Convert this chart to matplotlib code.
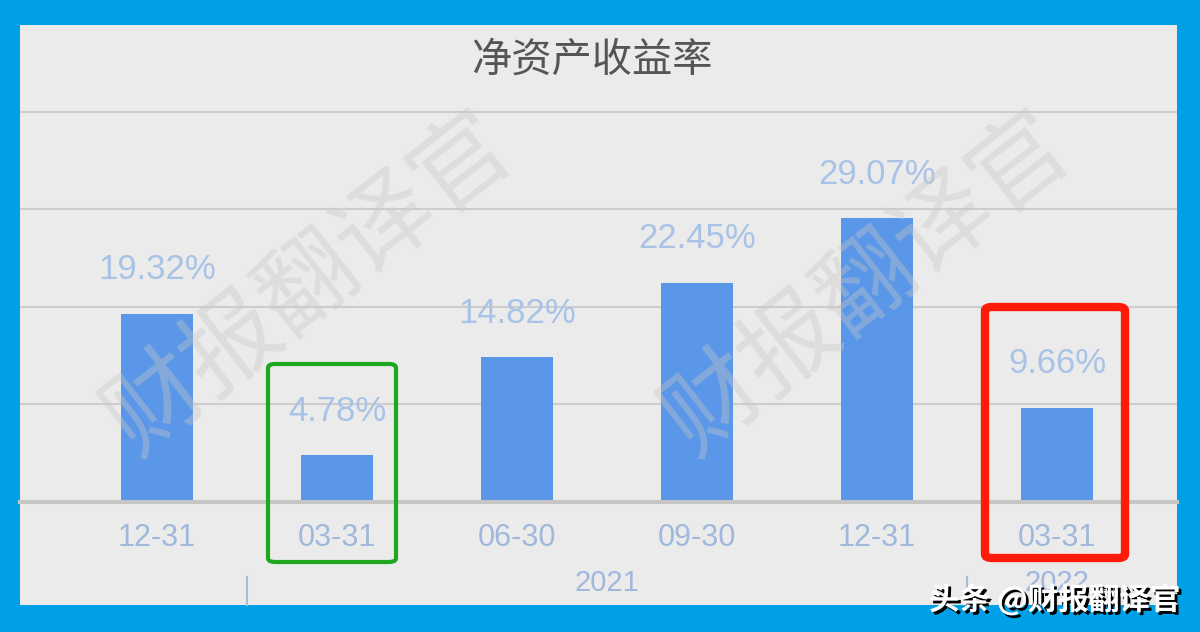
import matplotlib
matplotlib.use('Agg')
import matplotlib.pyplot as plt
import matplotlib.patheffects as pe
from matplotlib.patches import Rectangle, FancyBboxPatch

plt.rcParams['font.family'] = ['Noto Sans CJK SC', 'DejaVu Sans']

# data
dates = ['12-31', '03-31', '06-30', '09-30', '12-31', '03-31']
roe = [19.32, 4.78, 14.82, 22.45, 29.07, 9.66]
years = ['2021', '2022']
year_pos = [2.5, 5]      # centre of each year group (category index)
year_breaks = [0.5, 4.5]

W, H = 1200, 632
fig = plt.figure(figsize=(12, 6.32), dpi=100)
fig.patch.set_facecolor('#00a0e6')


def px(x, y):
    # pixel position (from top-left) -> figure fraction
    return x / W, 1 - y / H


# grey panel
x0, y0 = px(20, 605)
x1, y1 = px(1177, 25)
fig.patches.append(Rectangle((x0, y0), x1 - x0, y1 - y0, transform=fig.transFigure,
                             facecolor='#ebebeb', edgecolor='none', zorder=-5))

# axes: bottom on the baseline, top on the panel top
ax_l, ax_b = px(20, 502)
ax_r, ax_t = px(1177, 25)
ax = fig.add_axes([ax_l, ax_b, ax_r - ax_l, ax_t - ax_b])
ax.set_facecolor('none')
ax.set_xlim(-0.761, 5.667)
ax.set_ylim(0, 48.9)

for g in [10, 20, 30, 40]:
    ax.axhline(g, color='#cdcdcd', lw=1.5, zorder=1)

x = range(len(roe))
ax.bar(x, roe, width=0.4, color='#5b97e8', zorder=2)

for xi, v in zip(x, roe):
    ax.annotate('%.2f%%' % v, (xi, v), xytext=(0, 20), textcoords='offset points',
                ha='center', va='bottom', fontsize=25, color='#a9c3e6',
                family='Liberation Sans', zorder=3)

for s in ['top', 'right', 'left']:
    ax.spines[s].set_visible(False)
ax.spines['bottom'].set_color('#c6c6c6')
ax.spines['bottom'].set_linewidth(3)
ax.set_yticks([])
ax.set_xticks(list(x))
ax.set_xticklabels(dates, fontsize=22, color='#9fb8dc', family='Liberation Sans')
ax.tick_params(axis='x', length=0, pad=15)

# year row
for yp, yl in zip(year_pos, years):
    ax.annotate(yl, (yp, 0), xytext=(0, -48), textcoords='offset points',
                ha='center', va='top', fontsize=21, color='#9fb8dc',
                family='Liberation Sans', annotation_clip=False)
for b in year_breaks:
    ax.plot([b, b], [-7.7, -10.6], color='#a8bcd8', lw=1.5, clip_on=False)

# rotated watermarks
for cx, cy in [(310, 285), (868, 285)]:
    fx, fy = px(cx, cy)
    fig.text(fx, fy, '财报翻译官', rotation=38, ha='center', va='center',
             fontsize=70, color='#c8c8c8', alpha=0.38, weight='light', zorder=5)

# title
tx, ty = px(592, 60)
fig.text(tx, ty, '净资产收益率', ha='center', va='center', fontsize=29, color='#555555')

# highlight boxes
for (l, t, r, b), c, lw in [((268, 364, 396, 562), '#1fa81f', 3),
                            ((985, 307, 1125, 558), '#ff1a0a', 6)]:
    bx0, by0 = px(l, b)
    bx1, by1 = px(r, t)
    fig.patches.append(FancyBboxPatch((bx0, by0), bx1 - bx0, by1 - by0,
                                      boxstyle='round,pad=0,rounding_size=0.006',
                                      transform=fig.transFigure, facecolor='none',
                                      edgecolor=c, lw=lw, zorder=6))

# corner credit
cx, cy = px(1180, 600)
fig.text(cx, cy, '头条 @财报翻译官', ha='right', va='center', fontsize=22,
         color='white', weight='bold', zorder=7,
         path_effects=[pe.withSimplePatchShadow(offset=(2, -2),
                                                shadow_rgbFace='black', alpha=1.0)])

fig.savefig('out.png', dpi=100, facecolor=fig.get_facecolor())
